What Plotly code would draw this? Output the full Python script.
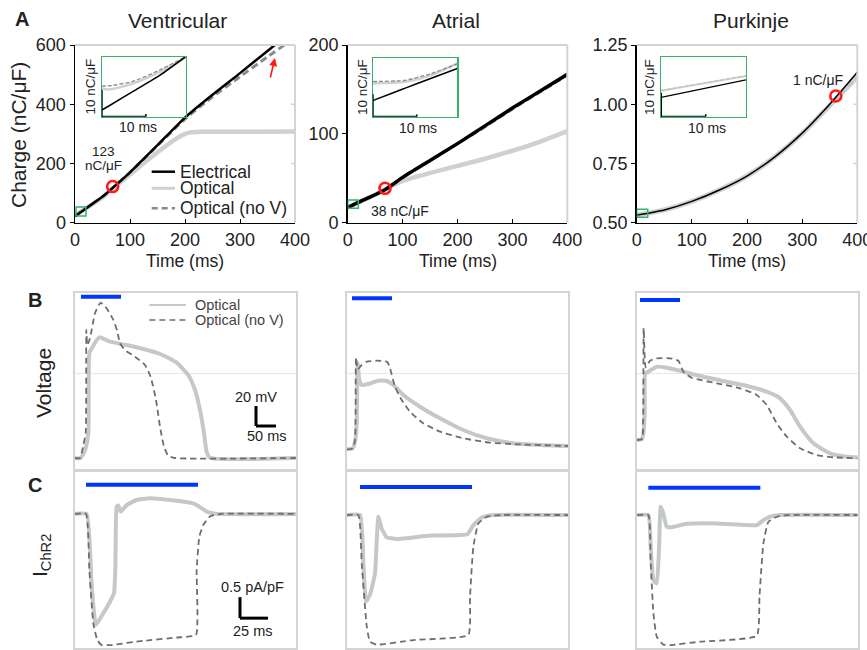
import plotly.graph_objects as go

W, H = 867, 650
FONT = "Arial, Liberation Sans, sans-serif"

# ---------------- Panel A data (charge, nC/uF vs time, ms) ----------------
A_T = [0, 25, 50, 70, 100, 150, 200, 250, 300, 350, 400]
VENT_ELEC = [22, 55, 88, 120, 170, 262, 355, 432, 505, 580, 655]
VENT_NOV = [22, 55, 88, 120, 170, 260, 350, 425, 493, 560, 625]
VENT_OPT_T = [0, 50, 70, 100, 150, 185, 200, 210, 230, 300, 400]
VENT_OPT = [25, 85, 118, 163, 238, 285, 300, 305, 307, 307, 308]

ATR_ELEC = [17, 24.5, 31.5, 38, 51, 70, 89, 109, 129, 148, 167]
ATR_NOV = [17, 24.5, 31.5, 38, 51, 70, 89, 108, 128, 147, 166]
ATR_OPT = [17, 24.5, 31.5, 38, 47, 56, 64, 72, 81, 91, 103]

PUR_T = [0, 50, 100, 150, 200, 250, 300, 350, 400]
PUR_ELEC = [0.532, 0.554, 0.59, 0.638, 0.697, 0.777, 0.878, 1.0, 1.135]
PUR_OPT = [0.532, 0.554, 0.59, 0.638, 0.697, 0.777, 0.876, 0.995, 1.115]
PUR_NOV = [0.532, 0.554, 0.59, 0.638, 0.697, 0.777, 0.876, 0.995, 1.117]

MARK_T = [68.5, 68.0, 361.0]
MARK_Q = [122, 38.7, 1.035]

# insets (first ~19 ms)
INS_V_T = [0, 1.9, 7.2, 13.2, 19]
INS_V_ELEC = [22.5, 24.3, 29.6, 35.6, 42.5]
INS_V_OPT = [30.6, 30.25, 32.5, 36.9, 42.25]
INS_V_NOV = [31.5, 31.6, 33.3, 37.6, 42.5]
INS_A_T = [0, 5.4, 7.7, 13.0, 19.2]
INS_A_ELEC = [17.2, 21.3, 23.0, 27.0, 31.6]
INS_A_OPT = [24.9, 25.3, 25.7, 28.4, 33.9]
INS_A_NOV = [25.7, 26.0, 26.4, 29.1, 33.6]
INS_P_T = [0, 19]
INS_P_ELEC = [8.06, 15.3]
INS_P_OPT = [10.8, 16.9]
INS_P_NOV = [10.9, 17.0]

# ---------------- Panel B data (voltage, mV vs time, ms) ----------------
VB_T_OPT = [-15, -0.8, 10, 18.3, 20.8, 26.7, 45.8, 72.5, 114, 156, 198, 239, 268, 285, 297.5, 307.5, 314, 322.5, 537]
VB_V_OPT = [-85.3, -85, -77, -60, 19.7, 24.7, 35.7, 31.3, 28, 24, 19, 10.3, -2, -17, -37, -60, -78.7, -84.7, -85]
VB_T_NOV = [-15, -2.5, 5.8, 11.7, 13.3, 15.8, 22.5, 35, 49, 64, 81, 91, 97.5, 110, 135, 160, 174, 187.5, 197.5, 207.5, 218, 235, 537]
VB_V_NOV = [-85, -85, -72, -60, 43, 28, 34.7, 59.7, 70.3, 64.7, 53, 41.3, 29.7, 23, 16.3, 8, -3.7, -27, -53.7, -73.7, -82.7, -85, -85]

AB_T_OPT = [-13, 1.7, 8.3, 11.7, 14.2, 18.3, 24.2, 40.8, 65.8, 86.7, 103.3, 128.3, 170, 220, 278, 336.7, 403, 470, 540]
AB_V_OPT = [-76.3, -75.3, -67, -50.3, 9.7, -7, -12, -11, -7.7, -8, -12, -22, -33.7, -45.3, -57, -65.3, -70.3, -72, -73]
AB_T_NOV = [-13, 1.7, 7.5, 10, 14.2, 24.2, 36.7, 61.7, 88.3, 95, 107.5, 124.2, 145, 178.3, 220, 278, 345, 411.7, 540]
AB_V_NOV = [-76.3, -75.3, -67, 15.7, 3.7, 8, 11.3, 12.3, 11, 4.7, -13.7, -27, -38.7, -50.3, -58.7, -65.3, -69.7, -71.3, -73]

PB_T_OPT = [-8, 4.2, 8.3, 11.7, 13.3, 20.8, 41.7, 66.7, 100, 150, 216.7, 275, 316.7, 350, 375, 400, 433.3, 475, 516.7, 544]
PB_V_OPT = [-67, -66.3, -60.3, -40.3, -0.3, 1.3, 6.3, 5.3, 2.3, -3, -8.7, -13.7, -18.7, -25.3, -37, -53.7, -70.3, -80.3, -83.7, -84.3]
PB_T_NOV = [-8, 4.2, 6.7, 9.2, 14.2, 25, 41.7, 75, 95.8, 108.3, 129.2, 191.7, 250, 291.7, 316.7, 341.7, 366.7, 400, 441.7, 483.3, 544]
PB_V_NOV = [-67, -66.3, -63.7, 44.7, 5.7, 12.3, 14.7, 14.7, 12.3, 1.3, -4.7, -10.3, -15.3, -22, -32, -50.3, -63.7, -75.3, -82, -84.3, -85.3]

# ---------------- Panel C data (I_ChR2, pA/pF vs time, ms) ----------------
VC_T_OPT = [-10, 0.6, 5.1, 8.9, 15.5, 21.4, 25, 26.2, 27.4, 28.9, 31, 36.3, 45.2, 57.1, 75, 95.8, 100.3, 107.8, 116.7, 188]
VC_I_OPT = [0, 0, -1.73, -2.64, -2.36, -2.09, -1.89, -1.33, 0.17, 0.2, 0.055, 0.21, 0.33, 0.37, 0.33, 0.25, 0.19, 0.055, 0, 0]
VC_T_NOV = [-10, 0, 3, 6.5, 10.1, 14, 21.4, 51.2, 81, 98.2, 98.8, 101.2, 104.8, 110.7, 119.7, 188]
VC_I_NOV = [0, 0, -1.33, -2.6, -3.0, -3.12, -3.12, -3.02, -2.94, -2.88, -1.33, -0.54, -0.26, -0.064, 0, 0]

AC_T_OPT = [-12, 0, 3, 5.4, 8.9, 13.4, 14.9, 16.4, 19.3, 23.8, 32.7, 62.5, 95.8, 101.2, 108.7, 119, 186]
AC_I_OPT = [0, 0, -1.15, -2.06, -1.9, -1.39, -0.6, -0.04, -0.32, -0.53, -0.57, -0.49, -0.46, -0.24, -0.06, 0, 0]
AC_T_NOV = [-12, -1.5, 1.5, 6, 8.9, 14.9, 47.6, 96.7, 98.2, 101.2, 105.7, 113.1, 128, 186]
AC_I_NOV = [0, 0, -1.15, -2.66, -3.02, -3.09, -2.98, -2.86, -1.94, -0.75, -0.2, -0.04, 0, 0]

PC_T_OPT = [-10, 0, 2.1, 4.5, 7.5, 9.6, 11, 13.4, 16.4, 20.9, 34.3, 61, 96.8, 102.7, 108.7, 117.6, 187]
PC_I_OPT = [0, 0, -0.75, -1.55, -1.63, -0.75, 0.2, 0.04, -0.28, -0.29, -0.21, -0.2, -0.24, -0.12, -0.04, 0, 0]
PC_T_NOV = [-10, 0, 2.1, 4.5, 7.5, 13.4, 19.4, 46.2, 96.8, 99.2, 102.7, 107.2, 114.6, 123.6, 187]
PC_I_NOV = [0, 0, -1.15, -2.34, -2.9, -3.09, -3.1, -3.02, -2.88, -1.94, -0.67, -0.16, -0.04, 0, 0]

STIM = [0, 100]           # light pulse, ms
A_XTICKS = [0, 100, 200, 300, 400]
V_YTICKS = [0, 200, 400, 600]
A_YTICKS = [0, 100, 200]
P_YTICKS = [0.5, 0.75, 1.0, 1.25]

# ---------------- colours ----------------
BLACK = "#000000"
LGRAY = "#cfd1d1"
DGRAY = "#6e6e6e"
GREEN = "#33b36b"
RED = "#ff1a1a"
BLUE = "#0036ff"
BOX = "#d4d4d4"


def dxp(a, b):
    return [a / W, b / W]


def dyp(top, bot):
    return [1 - bot / H, 1 - top / H]


fig = go.Figure()


def line(x, y, ax, color, width, dash="solid", shape="spline", smooth=0.6):
    fig.add_trace(go.Scatter(
        x=x, y=y, xaxis="x" + ax, yaxis="y" + ax, mode="lines",
        line=dict(color=color, width=width, dash=dash, shape=shape,
                  smoothing=smooth if shape == "spline" else None),
        showlegend=False, hoverinfo="skip"))


# ---- Panel A traces ----
line(VENT_OPT_T, VENT_OPT, "", LGRAY, 4.5)
line(A_T, VENT_NOV, "", "#8a8a8a", 3, dash="7px,4px")
line(A_T, VENT_ELEC, "", BLACK, 2.5)
line(A_T, ATR_OPT, "2", LGRAY, 4.5)
line(A_T, ATR_NOV, "2", "#8a8a8a", 3, dash="7px,4px")
line(A_T, ATR_ELEC, "2", BLACK, 3.5)
line(PUR_T, PUR_OPT, "3", LGRAY, 5)
line(PUR_T, PUR_NOV, "3", "#bdbdbd", 1.5, dash="7px,4px")
line(PUR_T, PUR_ELEC, "3", BLACK, 1.5)

for i, ax in enumerate(["", "2", "3"]):
    fig.add_trace(go.Scatter(
        x=[MARK_T[i]], y=[MARK_Q[i]], xaxis="x" + ax, yaxis="y" + ax, mode="markers",
        marker=dict(symbol="circle-open", size=11, color=RED, line=dict(width=2.6, color=RED)),
        showlegend=False, hoverinfo="skip", cliponaxis=False))

# insets
line(INS_V_T, INS_V_OPT, "4", LGRAY, 2.5)
line(INS_V_T, INS_V_NOV, "4", "#8a8a8a", 1.3, dash="4px,2px")
line(INS_V_T, INS_V_ELEC, "4", BLACK, 1.5)
line(INS_A_T, INS_A_OPT, "5", LGRAY, 2.5)
line(INS_A_T, INS_A_NOV, "5", "#8a8a8a", 1.3, dash="4px,2px")
line(INS_A_T, INS_A_ELEC, "5", BLACK, 1.5)
line(INS_P_T, INS_P_OPT, "6", LGRAY, 2.0)
line(INS_P_T, INS_P_NOV, "6", "#bdbdbd", 1.0, dash="4px,2px")
line(INS_P_T, INS_P_ELEC, "6", BLACK, 1.3)

# ---- Panel B traces ----
line(VB_T_OPT, VB_V_OPT, "7", "#c4c8c8", 4, smooth=0.5)
line(VB_T_NOV, VB_V_NOV, "7", DGRAY, 1.8, dash="6px,4px", smooth=0.5)
line(AB_T_OPT, AB_V_OPT, "8", "#c4c8c8", 4, smooth=0.5)
line(AB_T_NOV, AB_V_NOV, "8", DGRAY, 1.8, dash="6px,4px", smooth=0.5)
line(PB_T_OPT, PB_V_OPT, "9", "#c4c8c8", 4, smooth=0.5)
line(PB_T_NOV, PB_V_NOV, "9", DGRAY, 1.8, dash="6px,4px", smooth=0.5)

# ---- Panel C traces ----
line(VC_T_OPT, VC_I_OPT, "10", "#c4c8c8", 4, smooth=0.4)
line(VC_T_NOV, VC_I_NOV, "10", DGRAY, 1.8, dash="6px,4px", smooth=0.4)
line(AC_T_OPT, AC_I_OPT, "11", "#c4c8c8", 4, smooth=0.4)
line(AC_T_NOV, AC_I_NOV, "11", DGRAY, 1.8, dash="6px,4px", smooth=0.4)
line(PC_T_OPT, PC_I_OPT, "12", "#c4c8c8", 4, smooth=0.4)
line(PC_T_NOV, PC_I_NOV, "12", DGRAY, 1.8, dash="6px,4px", smooth=0.4)

# ---------------- axes ----------------
layout = dict(template="none", width=W, height=H, autosize=False,
              margin=dict(l=0, r=0, t=0, b=0, pad=0, autoexpand=False),
              paper_bgcolor="white", plot_bgcolor="rgba(0,0,0,0)",
              font=dict(family=FONT, color="#222"), showlegend=False)

A_X = [(75, 295), (347.7, 567.3), (636.7, 857.3)]
A_YR = [[0, 600], [0, 200], [0.5, 1.25]]
A_YT = [V_YTICKS, A_YTICKS, P_YTICKS]
for i, num in enumerate(["", "2", "3"]):
    xa = dict(domain=dxp(*A_X[i]), range=[0, 400], anchor="y" + num, showline=True,
              linecolor=BLACK, linewidth=1.5, ticks="inside", ticklen=4, tickcolor=BLACK,
              tickvals=A_XTICKS, tickfont=dict(size=18, color="#222"), showgrid=False,
              zeroline=False, fixedrange=True, automargin=False, ticklabeloverflow="allow")
    ya = dict(domain=dyp(45, 222.7), range=A_YR[i], anchor="x" + num, showline=True,
              linecolor=BLACK, linewidth=1.5, ticks="outside", ticklen=4, tickcolor=BLACK,
              tickvals=A_YT[i], tickfont=dict(size=18, color="#222"), showgrid=False,
              zeroline=False, fixedrange=True, automargin=False)
    if i == 2:
        ya["tickformat"] = ".2f"
    layout["xaxis" + num] = xa
    layout["yaxis" + num] = ya

INS_X = [(101.7, 185.7), (372.7, 457.3), (661, 746)]
INS_Y = [(56.7, 116.7), (57.7, 116.7), (57.3, 116.7)]
INS_XR = [[0, 19], [0, 19.2], [0, 19]]
INS_YR = [[20, 42.5], [10, 36.4], [0, 24.7]]
for i, num in enumerate(["4", "5", "6"]):
    layout["xaxis" + num] = dict(domain=dxp(*INS_X[i]), range=INS_XR[i], anchor="y" + num,
                                 showline=True, mirror=True, linecolor=GREEN, linewidth=1.2,
                                 showticklabels=False, ticks="", showgrid=False,
                                 zeroline=False, fixedrange=True, automargin=False)
    layout["yaxis" + num] = dict(domain=dyp(*INS_Y[i]), range=INS_YR[i], anchor="x" + num,
                                 showline=True, mirror=True, linecolor=GREEN, linewidth=1.2,
                                 showticklabels=False, ticks="", showgrid=False,
                                 zeroline=False, fixedrange=True, automargin=False)

BC_X = [(75, 296), (346.7, 568), (636.7, 857.7)]
B_XR = [[-15, 537.5], [-13.3, 540], [-8.3, 544]]
C_XR = [[-9.8, 187.5], [-11.9, 185.7], [-10.4, 186.9]]
B_YR = [-97, 80]
C_YR = [[-3.19, 1.02], [-3.17, 1.05], [-3.17, 1.05]]
for i in range(3):
    nb, nc = str(7 + i), str(10 + i)
    box = dict(showline=True, mirror=True, linecolor=BOX, linewidth=2, showticklabels=False,
               ticks="", zeroline=False, fixedrange=True, automargin=False)
    layout["xaxis" + nb] = dict(box, domain=dxp(*BC_X[i]), range=B_XR[i], anchor="y" + nb,
                                showgrid=False)
    layout["yaxis" + nb] = dict(box, domain=dyp(293, 470), range=B_YR, anchor="x" + nb,
                                showgrid=True, tickvals=[0], gridcolor="#e8e8e8", gridwidth=1)
    layout["xaxis" + nc] = dict(box, domain=dxp(*BC_X[i]), range=C_XR[i], anchor="y" + nc,
                                showgrid=False)
    layout["yaxis" + nc] = dict(box, domain=dyp(471, 648), range=C_YR[i], anchor="x" + nc,
                                showgrid=False)

fig.update_layout(**layout)

# ---------------- shapes ----------------
shapes = []
# gray top/right frame and right ticks for panel A
for i, num in enumerate(["", "2", "3"]):
    xd, yd = "x" + num + " domain", "y" + num + " domain"
    shapes.append(dict(type="line", xref=xd, yref=yd, x0=1, x1=1, y0=0, y1=1,
                       line=dict(color=BOX, width=2)))
    shapes.append(dict(type="line", xref=xd, yref=yd, x0=0, x1=1, y0=1, y1=1,
                       line=dict(color=BOX, width=2)))
    for v in A_YT[i][1:-1]:
        shapes.append(dict(type="line", xref=xd, yref="y" + num, x0=1, x1=1 - 4 / 220,
                           y0=v, y1=v, line=dict(color=BOX, width=1.5)))

# green zoom squares in main panels
SQ = [((1.8, 20), (22.6, 53)), ((0, 19.3), (16.2, 25.5)), ((0, 20), (0.523, 0.5565))]
for i, num in enumerate(["", "2", "3"]):
    (x0, x1), (y0, y1) = SQ[i]
    shapes.append(dict(type="rect", xref="x" + num, yref="y" + num, x0=x0, x1=x1, y0=y0, y1=y1,
                       line=dict(color=GREEN, width=1.5)))

# inset scale bars (10 ms, 10 nC/uF)
for i, num in enumerate(["4", "5", "6"]):
    x0 = INS_XR[i][0]
    y0 = INS_YR[i][0]
    xs, ys = "x" + num, "y" + num
    shapes.append(dict(type="line", xref=xs, yref=ys, x0=x0, x1=x0, y0=y0, y1=y0 + 10,
                       line=dict(color=BLACK, width=2)))
    shapes.append(dict(type="line", xref=xs, yref=ys, x0=x0, x1=x0 + 10, y0=y0, y1=y0,
                       line=dict(color=BLACK, width=2)))
    shapes.append(dict(type="line", xref=xs, yref=ys, x0=x0 - 0.6, x1=x0, y0=y0 + 10, y1=y0 + 10,
                       line=dict(color=BLACK, width=1.5)))
    shapes.append(dict(type="line", xref=xs, yref=ys, x0=x0 + 10, x1=x0 + 10, y0=y0, y1=y0 + 1,
                       line=dict(color=BLACK, width=1.5)))

# legend for panel A (ventricular)
LEG_A = [("Electrical", BLACK, 2.5, "solid", 171.7), ("Optical", LGRAY, 3, "solid", 188.3),
         ("Optical (no V)", "#8a8a8a", 2.5, "6px,4px", 208.3)]
for name, col, wd, ds, py in LEG_A:
    shapes.append(dict(type="line", xref="paper", yref="paper", x0=151.7 / W, x1=175 / W,
                       y0=1 - py / H, y1=1 - py / H, line=dict(color=col, width=wd, dash=ds)))

# stimulation bars
B_BAR_Y = [76.3, 74.7, 73]
C_BAR_Y = [0.69, 0.67, 0.65]
for i in range(3):
    nb, nc = str(7 + i), str(10 + i)
    shapes.append(dict(type="line", xref="x" + nb, yref="y" + nb, x0=STIM[0], x1=STIM[1],
                       y0=B_BAR_Y[i], y1=B_BAR_Y[i], line=dict(color=BLUE, width=4)))
    shapes.append(dict(type="line", xref="x" + nc, yref="y" + nc, x0=STIM[0], x1=STIM[1],
                       y0=C_BAR_Y[i], y1=C_BAR_Y[i], line=dict(color=BLUE, width=4)))

# B legend (ventricular)
shapes.append(dict(type="line", xref="x7", yref="y7", x0=171, x1=262, y0=68, y1=68,
                   line=dict(color="#c4c8c8", width=2)))
shapes.append(dict(type="line", xref="x7", yref="y7", x0=171, x1=262, y0=53, y1=53,
                   line=dict(color=DGRAY, width=1.6, dash="6px,4px")))

# scale bars
SB_B = (437.5, -33, 20, 50)     # x, top y, 20 mV, 50 ms
x0, ytop, dv, dt = SB_B
shapes.append(dict(type="line", xref="x7", yref="y7", x0=x0, x1=x0, y0=ytop, y1=ytop - dv,
                   line=dict(color=BLACK, width=3)))
shapes.append(dict(type="line", xref="x7", yref="y7", x0=x0, x1=x0 + dt, y0=ytop - dv, y1=ytop - dv,
                   line=dict(color=BLACK, width=3)))
SB_C = (137.5, -1.98, 0.5, 25)  # x, top y, 0.5 pA/pF, 25 ms
x0, ytop, dv, dt = SB_C
shapes.append(dict(type="line", xref="x10", yref="y10", x0=x0, x1=x0, y0=ytop, y1=ytop - dv,
                   line=dict(color=BLACK, width=3)))
shapes.append(dict(type="line", xref="x10", yref="y10", x0=x0, x1=x0 + dt, y0=ytop - dv, y1=ytop - dv,
                   line=dict(color=BLACK, width=3)))

fig.update_layout(shapes=shapes)

# ---------------- annotations ----------------
anns = []


def ann(text, px, py, size, bold=False, angle=0, color="#222", xanchor="center"):
    if bold:
        text = "<b>" + text + "</b>"
    anns.append(dict(text=text, x=px / W, y=1 - py / H, xref="paper", yref="paper",
                     showarrow=False, textangle=angle, xanchor=xanchor, yanchor="middle",
                     font=dict(size=size, color=color, family=FONT)))


ann("A", 22, 19, 20, bold=True)
ann("B", 34.5, 300, 20, bold=True)
ann("C", 34.5, 485, 20, bold=True)
ann("Ventricular", 177, 21, 21)
ann("Atrial", 456, 21, 21)
ann("Purkinje", 751, 21, 21)
ann("Charge (nC/μF)", 18, 135, 21, angle=-90)
for cx in [(75 + 295) / 2, (347.7 + 567.3) / 2, (636.7 + 857.3) / 2]:
    ann("Time (ms)", cx, 261, 17.5)
ann("Voltage", 43, 383, 21, angle=-90)
ann("I<sub>ChR2</sub>", 41, 556, 21, angle=-90)

# legend text
for name, col, wd, ds, py in LEG_A:
    ann(name, 178, py, 17.5, xanchor="left")

# value annotations
ann("123", 103, 151, 13.5)
ann("nC/μF", 103, 165.5, 13.5)
ann("38 nC/μF", 400, 210.5, 14)
ann("1 nC/μF", 818, 80, 14)

# inset labels
ann("10 nC/μF", 90, 86.5, 13.5, angle=-90)
ann("10 ms", 137.5, 126.7, 14)
ann("10 nC/μF", 362.5, 87.5, 13.5, angle=-90)
ann("10 ms", 418, 128, 14)
ann("10 nC/μF", 649, 87, 13.5, angle=-90)
ann("10 ms", 706.7, 127.7, 14)

# B legend text & scale labels
ann("Optical", 192.7, 305, 14.5, color="#444", xanchor="left")
ann("Optical (no V)", 192.7, 320, 14.5, color="#444", xanchor="left")
ann("20 mV", 256, 397, 14.5)
ann("50 ms", 267, 436, 14.5)
ann("0.5 pA/pF", 252.7, 586.7, 14.5)
ann("25 ms", 253.3, 631, 14.5)

# red arrow in ventricular panel
anns.append(dict(x=363.6, y=556, xref="x", yref="y", ax=-5, ay=21, text="",
                 showarrow=True, arrowhead=2, arrowsize=1, arrowwidth=1.6, arrowcolor=RED))

fig.update_layout(annotations=anns)

fig.write_html("out.html", config={"displayModeBar": False, "staticPlot": True},
               post_script="document.body.style.margin='0px';document.body.style.overflow='hidden';")
